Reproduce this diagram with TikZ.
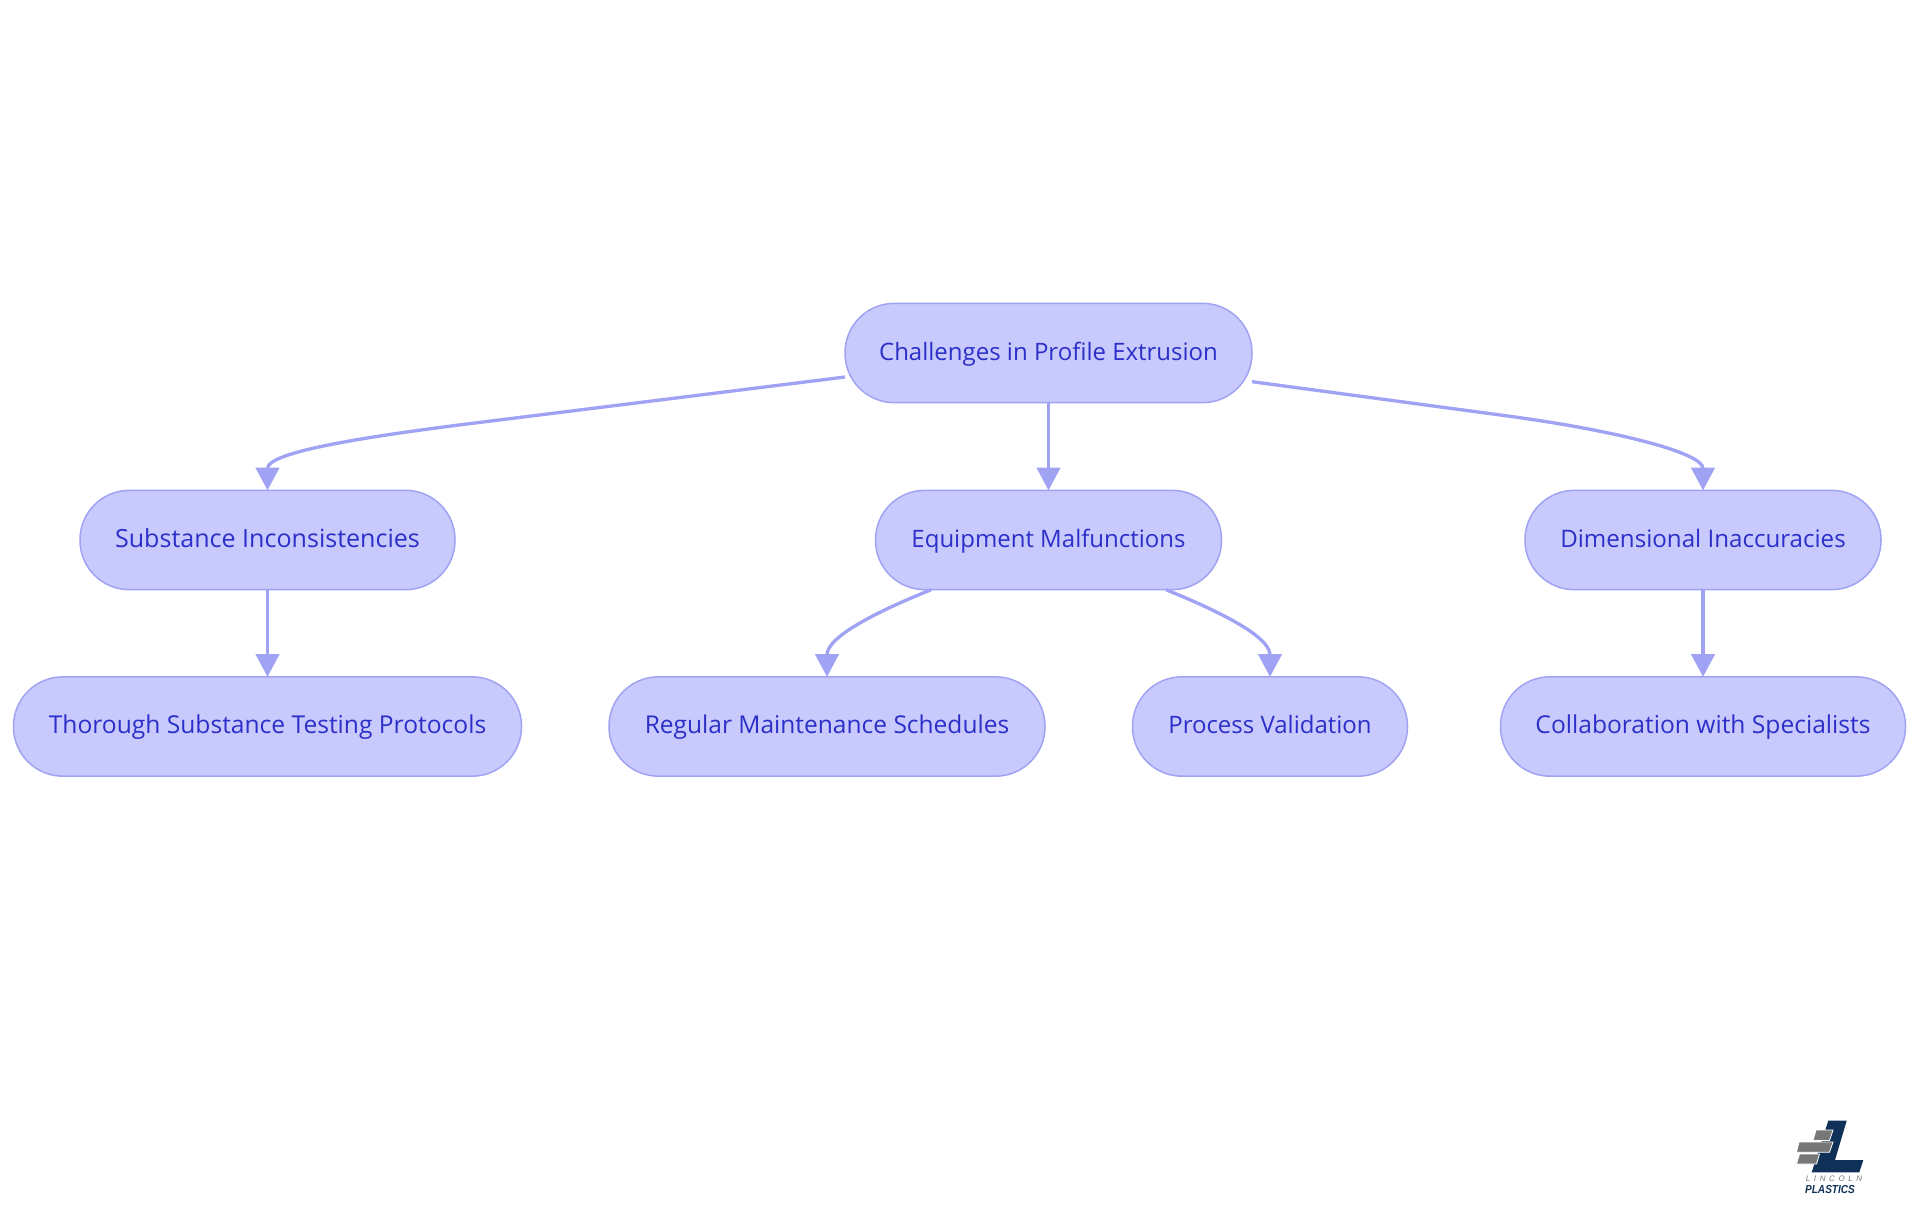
\documentclass[tikz,border=0pt]{standalone}
\usepackage{fontspec}
\usepackage{graphicx}
\setmainfont{Open Sans}
\newfontfamily\logofont{Liberation Sans}
\usetikzlibrary{arrows.meta,calc}
\definecolor{pillfill}{HTML}{C8CAFD}
\definecolor{pillline}{HTML}{A0A3F3}
\definecolor{pilltext}{HTML}{2C2FC8}
\definecolor{logonavy}{HTML}{0F3157}
\definecolor{logogray}{HTML}{777777}
\tikzset{
  pill/.style={draw=pillline,fill=pillfill,line width=1.5pt*0.75,rounded corners=37pt,
    minimum height=74.5pt,minimum width=#1*0.75pt,inner sep=0pt,outer sep=0pt,text=pilltext,
    text height=14.35pt,text depth=3.65pt,
    font=\fontsize{18pt}{22pt}\selectfont},
  pillwide/.style={font=\fontsize{#1pt}{22pt}\selectfont},
  link/.style={draw=pillline,line width=2.5pt,-{Triangle[length=17pt,width=17.5pt,color=pillline]}},
  bricks/.style={fill=logogray,draw=white,line width=0.6pt},
  ell/.style={fill=logonavy,draw=none}
}
\begin{document}
\begin{tikzpicture}[x=0.75pt,y=-0.75pt]
\useasboundingbox (0,0) rectangle (1920,1215);
\node[pill=407] (root) at (1048.5,353) {Challenges in Profile Extrusion};
\node[pill=375,pillwide=18.8] (sub) at (267.5,540) {Substance Inconsistencies};
\node[pill=346] (equ) at (1048.5,540) {Equipment Malfunctions};
\node[pill=356,pillwide=18.1] (dim) at (1703,540) {Dimensional Inaccuracies};
\node[pill=508,pillwide=18.45] (tho) at (267.5,726.5) {Thorough Substance Testing Protocols};
\node[pill=436,pillwide=18.4] (reg) at (827,726.5) {Regular Maintenance Schedules};
\node[pill=275] (pro) at (1270,726.5) {Process Validation};
\node[pill=405,pillwide=18.45] (col) at (1703,726.5) {Collaboration with Specialists};
\draw[link] (root.south) -- (equ.north);
\draw[link] (sub.south) -- (tho.north);
\draw[link] (dim.south) -- (col.north);
\draw[link] ([yshift=-18pt]root.west) -- ++(-280pt,-34.8pt) .. controls +(-90pt,-11.2pt) and ($(sub.north)+(0pt,28pt)$) .. (sub.north);
\draw[link] ([yshift=-21.5pt]root.east) -- ++(190pt,-25.5pt) .. controls +(85pt,-11.4pt) and ($(dim.north)+(0pt,28pt)$) .. (dim.north);
\draw[link] ([xshift=-88pt]equ.south) .. controls +(-42pt,-17pt) and ($(reg.north)+(0pt,30pt)$) .. (reg.north);
\draw[link] ([xshift=88pt]equ.south) .. controls +(42pt,-17pt) and ($(pro.north)+(0pt,30pt)$) .. (pro.north);
% logo
\fill[ell] (1828.3,1120.7) -- (1846.7,1120.7) -- (1835,1160) -- (1863.3,1160) -- (1859.3,1172.3) -- (1811.7,1172.3) -- cycle;
\filldraw[bricks] (1816,1130) -- (1833,1130) -- (1829.5,1140.5) -- (1813,1140.5) -- cycle;
\filldraw[bricks] (1799,1142) -- (1833,1142) -- (1829.5,1152.3) -- (1796.5,1152.3) -- cycle;
\filldraw[bricks] (1799.5,1154) -- (1819.5,1154) -- (1816.5,1164) -- (1796.5,1164) -- cycle;
\node[inner sep=0pt,text=logogray] (lin) at (1834,1178.5) {\logofont\fontsize{6pt}{7pt}\selectfont\itshape L\hspace{2.7pt}I\hspace{2.7pt}N\hspace{2.7pt}C\hspace{2.7pt}O\hspace{2.7pt}L\hspace{2.7pt}N};
\node[inner sep=0pt,text=logonavy] (pla) at (1830,1189) {\logofont\fontsize{8.7pt}{9pt}\selectfont\bfseries\itshape\scalebox{0.87}[1]{PLASTICS}};
\end{tikzpicture}
\end{document}
